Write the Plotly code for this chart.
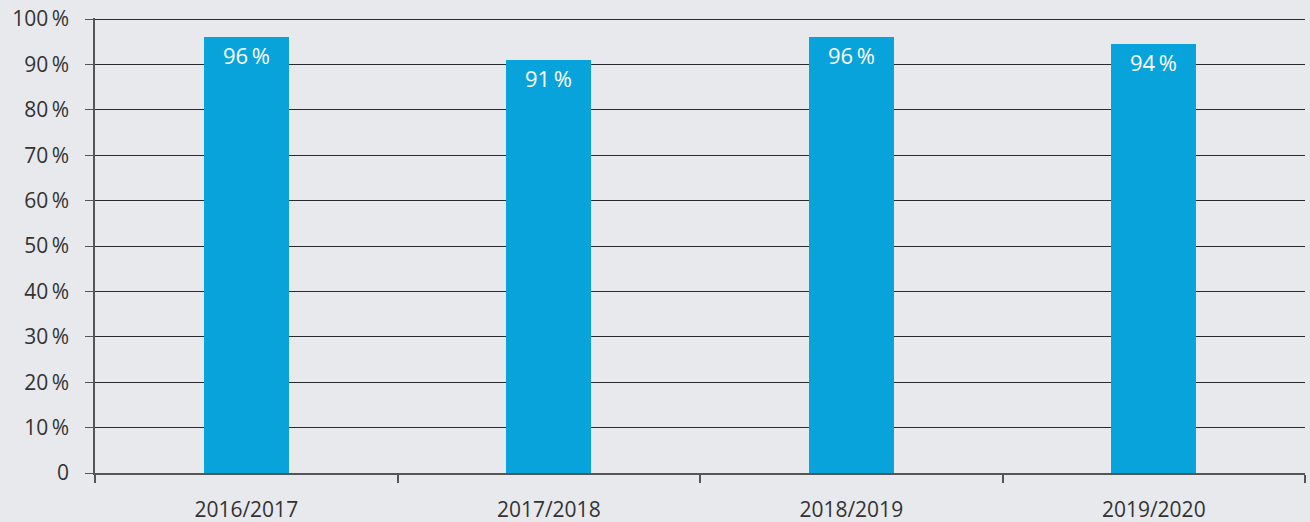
import plotly.graph_objects as go

seasons = ["2016/2017", "2017/2018", "2018/2019", "2019/2020"]
shares = [96, 91, 96, 94.5]
share_labels = ["96\u2009%", "91\u2009%", "96\u2009%", "94\u2009%"]
y_ticks = [0, 10, 20, 30, 40, 50, 60, 70, 80, 90, 100]
y_tick_text = ["0"] + [f"{v}\u2009%" for v in y_ticks[1:]]

bg = "#e8e9ed"

fig = go.Figure(
    go.Bar(
        x=seasons,
        y=shares,
        text=share_labels,
        textposition="inside",
        insidetextanchor="end",
        textfont=dict(color="white", size=22, family="Open Sans"),
        marker=dict(color="#09a3dc", line=dict(width=0)),
        width=0.28,
        cliponaxis=False,
    )
)

fig.update_layout(
    width=1310,
    height=522,
    margin=dict(l=95, r=5, t=18, b=49),
    paper_bgcolor=bg,
    plot_bgcolor=bg,
    font=dict(family="Open Sans", size=21, color="#333333"),
    showlegend=False,
    bargap=0,
)
fig.update_xaxes(
    automargin=False,
    showgrid=False,
    showline=True,
    linecolor="#555555",
    linewidth=2,
    ticks="outside",
    tickson="boundaries",
    ticklen=8,
    tickcolor="#555555",
    tickwidth=1.5,
    ticklabelstandoff=17,
    tickfont=dict(size=21),
)
fig.update_yaxes(
    automargin=False,
    range=[0, 100.25],
    tickvals=y_ticks,
    ticktext=y_tick_text,
    ticklabeloverflow="allow",
    ticklabelstandoff=12,
    showgrid=True,
    gridcolor="#2a2a2a",
    gridwidth=1,
    zeroline=False,
    showline=True,
    linecolor="#555555",
    linewidth=1.5,
    ticks="outside",
    ticklen=8,
    tickcolor="#555555",
    tickfont=dict(size=21),
)

# drop the default 8px body margin so the figure fills the window
fig.write_html(
    "out.html",
    config={"displayModeBar": False},
    post_script="document.body.style.margin='0';document.body.style.background='%s';" % bg,
)
